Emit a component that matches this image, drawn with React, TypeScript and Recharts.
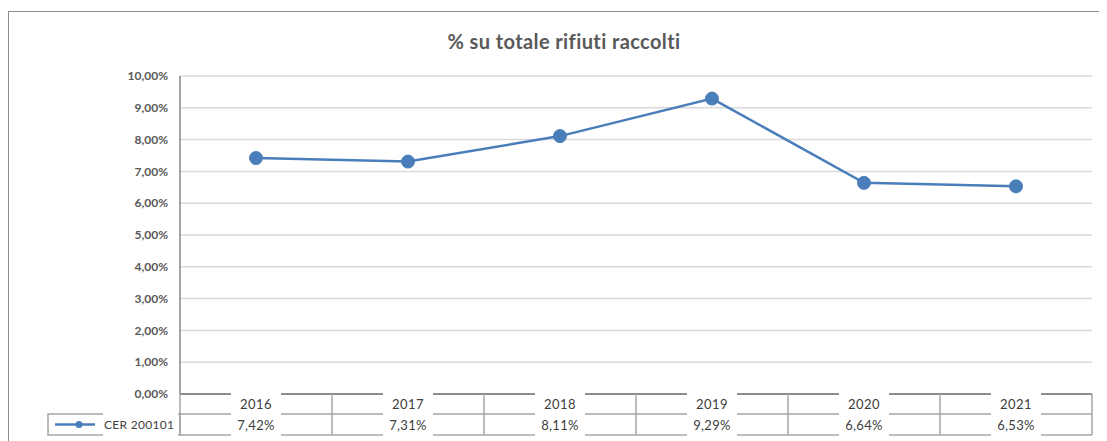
import React from 'react';
import { LineChart, Line, XAxis, YAxis, CartesianGrid } from 'recharts';

const years = ['2016', '2017', '2018', '2019', '2020', '2021'];
const cer200101 = [7.42, 7.31, 8.11, 9.29, 6.64, 6.53];
const yTicks = [0, 1, 2, 3, 4, 5, 6, 7, 8, 9, 10];
const seriesName = 'CER 200101';
const title = '% su totale rifiuti raccolti';

const data = years.map((year, i) => ({ year, value: cer200101[i] }));

const W = 1108;
const H = 438;
const PLOT_LEFT = 171;
const PLOT_RIGHT = 1083;
const PLOT_BOTTOM = 382;
const BAND = (PLOT_RIGHT - PLOT_LEFT) / years.length;
const ROW1 = PLOT_BOTTOM + 20; // line between years and values
const ROW2 = PLOT_BOTTOM + 41; // bottom of table
const LEGEND_LEFT = 39;

const blue = '#4a7ebb';
const gridGrey = '#d9d9d9';
const lineGrey = '#a6a6a6';
const textGrey = '#595959';
const font = 'Lato, "Open Sans", sans-serif';

const pct = (v: number) => v.toFixed(2).replace('.', ',') + '%';

// each x tick draws its own column of the data table
const TableTick = (props: any) => {
  const { x, payload } = props;
  const idx = payload.index;
  const left = x - BAND / 2;
  const right = x + BAND / 2;
  return (
    <g>
      {idx === 0 && (
        <g>
          <line x1={left} y1={PLOT_BOTTOM} x2={left} y2={ROW2} stroke={lineGrey} strokeWidth={1.5} />
          <rect x={LEGEND_LEFT} y={ROW1} width={left - LEGEND_LEFT} height={ROW2 - ROW1} fill="none" stroke={lineGrey} strokeWidth={1.5} />
          <rect x={LEGEND_LEFT + 55} y={ROW1 - 3} width={left - LEGEND_LEFT - 57} height={ROW2 - ROW1 + 5} fill="#fff" />
          <line x1={LEGEND_LEFT + 7} y1={(ROW1 + ROW2) / 2} x2={LEGEND_LEFT + 47} y2={(ROW1 + ROW2) / 2} stroke={blue} strokeWidth={2.5} />
          <circle cx={LEGEND_LEFT + 31} cy={(ROW1 + ROW2) / 2} r={3.5} fill={blue} />
          <text x={LEGEND_LEFT + 56} y={(ROW1 + ROW2) / 2} dominantBaseline="central" fontSize={12} letterSpacing={0.3} fill="#404040" fontFamily={font}>
            {seriesName}
          </text>
        </g>
      )}
      <line x1={left} y1={ROW1} x2={right} y2={ROW1} stroke={lineGrey} strokeWidth={1.5} />
      <line x1={left} y1={ROW2} x2={right} y2={ROW2} stroke={lineGrey} strokeWidth={1.5} />
      <line x1={right} y1={PLOT_BOTTOM} x2={right} y2={ROW2} stroke={lineGrey} strokeWidth={1.5} />
      <rect x={x - 25} y={PLOT_BOTTOM - 2} width={50} height={ROW2 - PLOT_BOTTOM + 4} fill="#fff" />
      <text x={x} y={PLOT_BOTTOM + 10} textAnchor="middle" dominantBaseline="central" fontSize={13} letterSpacing={0.5} fill="#404040" fontFamily={font}>
        {payload.value}
      </text>
      <text x={x} y={(ROW1 + ROW2) / 2} textAnchor="middle" dominantBaseline="central" fontSize={13} letterSpacing={0.3} fill="#404040" fontFamily={font}>
        {pct(cer200101[idx])}
      </text>
    </g>
  );
};

export default function App() {
  return (
    <div style={{ paddingTop: 3 }}>
      <div style={{ position: 'relative', width: W, height: H, border: '1px solid #8c8c8c', background: '#fff' }}>
        <div
          style={{
            position: 'absolute',
            left: 0,
            top: 18,
            width: 1110,
            textAlign: 'center',
            fontFamily: font,
            fontWeight: 700,
            fontSize: 20,
            letterSpacing: 0.4,
            lineHeight: '22px',
            color: textGrey,
          }}
        >
          {title}
        </div>
        <LineChart width={W} height={H} data={data} margin={{ top: 64, right: W - PLOT_RIGHT, bottom: 6, left: PLOT_LEFT - 70 }}>
          <CartesianGrid horizontal vertical={false} stroke={gridGrey} strokeWidth={1.5} />
          <YAxis
            width={70}
            domain={[0, 10]}
            ticks={yTicks}
            tickFormatter={pct}
            tickLine={false}
            tickSize={6}
            tickMargin={6}
            axisLine={{ stroke: '#868686', strokeWidth: 1.5 }}
            tick={{ fill: textGrey, fontSize: 12, fontWeight: 700, fontFamily: font }}
          />
          <XAxis
            dataKey="year"
            type="category"
            height={50}
            tickLine={false}
            interval={0}
            padding={{ left: BAND / 2, right: BAND / 2 }}
            axisLine={{ stroke: '#8c8c8c', strokeWidth: 2 }}
            tick={<TableTick />}
          />
          <Line
            type="linear"
            dataKey="value"
            name={seriesName}
            stroke={blue}
            strokeWidth={2.5}
            dot={{ r: 6.5, fill: blue, stroke: blue, strokeWidth: 1 }}
            activeDot={false}
            isAnimationActive={false}
          />
        </LineChart>
      </div>
    </div>
  );
}
